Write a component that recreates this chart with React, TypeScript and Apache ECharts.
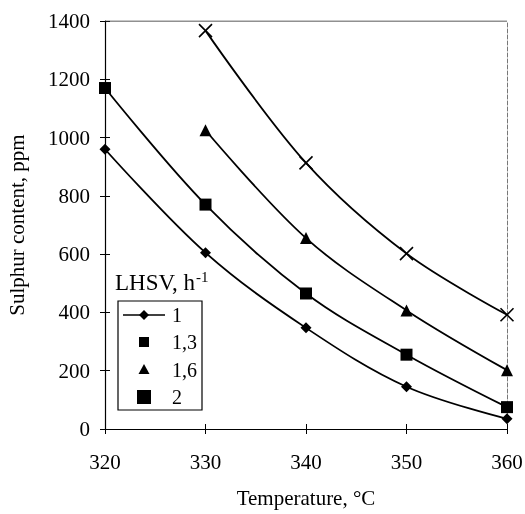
import React, { useEffect, useRef } from "react";
import * as echarts from "echarts";

const temps1 = [320, 330, 340, 350, 360];
const lhsv1 = [960, 605, 347, 145, 35];
const lhsv13 = [1170, 770, 465, 255, 75];
const temps2 = [330, 340, 350, 360];
const lhsv16 = [1025, 655, 407, 202];
const lhsv2 = [1367, 913, 602, 392];
const legendNames = ["1", "1,3", "1,6", "2"];

const FONT = "Liberation Serif";
const crossPath = "path://M0,0L10,10M10,0L0,10";

export default function App() {
  const ref = useRef<HTMLDivElement>(null);
  useEffect(() => {
    const chart = echarts.init(ref.current!, null, { renderer: "svg" });
    const zip = (xs: number[], ys: number[]) => xs.map((x, i) => [x, ys[i]]);
    const lineBase = {
      type: "line" as const,
      smooth: 0.35,
      lineStyle: { color: "#000", width: 1.8 },
      itemStyle: { color: "#000" },
      z: 3,
    };
    const legX = 118, legY = 301, legW = 84, legH = 109;
    const rows = [315, 342, 370, 397];
    const mx = 144;
    const lbl = { fontFamily: FONT, fontSize: 21, color: "#000" };
    chart.setOption({
      animation: false,
      textStyle: { fontFamily: FONT },
      grid: { left: 105, right: 18, top: 21, bottom: 85, outerBoundsMode: "none", containLabel: false },
      xAxis: [
        {
          type: "value", min: 320, max: 360, interval: 10, position: "bottom",
          name: "Temperature, °C", nameLocation: "middle", nameGap: 58,
          nameTextStyle: { fontFamily: FONT, fontSize: 21, color: "#000" },
          axisLine: { lineStyle: { color: "#000", width: 1.2 } },
          axisTick: { show: true, length: 5, lineStyle: { color: "#000" } },
          axisLabel: { ...lbl, margin: 22, formatter: (v: number) => String(v) },
          splitLine: { show: false },
        },
        {
          type: "value", min: 320, max: 360, interval: 10, position: "bottom",
          axisLine: { show: false },
          axisTick: { show: true, inside: true, length: 5, lineStyle: { color: "#000" } },
          axisLabel: { show: false },
          splitLine: { show: false },
        },
      ],
      yAxis: [
        {
          type: "value", min: 0, max: 1400, interval: 200, position: "left",
          name: "Sulphur content, ppm", nameLocation: "middle", nameGap: 78,
          nameTextStyle: { fontFamily: FONT, fontSize: 21, color: "#000" },
          axisLine: { show: true, lineStyle: { color: "#000", width: 1.2 } },
          axisTick: { show: true, length: 5, lineStyle: { color: "#000" } },
          axisLabel: { ...lbl, margin: 15, formatter: (v: number) => String(v) },
          splitLine: { show: false },
        },
        {
          type: "value", min: 0, max: 1400, interval: 200, position: "left",
          axisLine: { show: false },
          axisTick: { show: true, inside: true, length: 5, lineStyle: { color: "#000" } },
          axisLabel: { show: false },
          splitLine: { show: false },
        },
        {
          type: "value", min: 0, max: 1400, interval: 200, position: "right",
          axisLine: { show: true, lineStyle: { color: "#777", width: 1, type: "dashed" } },
          axisTick: { show: false },
          axisLabel: { show: false },
          splitLine: { show: false },
        },
      ],
      series: [
        { ...lineBase, name: "1", data: zip(temps1, lhsv1), symbol: "diamond", symbolSize: 11 },
        { ...lineBase, name: "1,3", data: zip(temps1, lhsv13), symbol: "rect", symbolSize: 12 },
        { ...lineBase, name: "1,6", data: zip(temps2, lhsv16), symbol: "triangle", symbolSize: 12 },
        {
          ...lineBase, name: "2", data: zip(temps2, lhsv2), symbol: crossPath, symbolSize: 13,
          itemStyle: { color: "none", borderColor: "#000", borderWidth: 1.6 },
        },
        {
          type: "line", xAxisIndex: 0, yAxisIndex: 0, data: [[320, 1400], [360, 1400]],
          symbol: "none", lineStyle: { color: "#222", width: 1.2 }, silent: true,
        },
      ],
      graphic: [
        {
          type: "text", x: 115, y: 269,
          style: {
            text: "{a|LHSV, h}{s|-1}", fill: "#000",
            rich: {
              a: { fontFamily: FONT, fontSize: 23, lineHeight: 25, verticalAlign: "bottom" },
              s: { fontFamily: FONT, fontSize: 15, lineHeight: 15, verticalAlign: "top", padding: [0, 0, 12, 1] },
            },
          },
        },
        {
          type: "rect", shape: { x: legX, y: legY, width: legW, height: legH },
          style: { fill: "#fff", stroke: "#000", lineWidth: 1.2 }, z: 10,
        },
        { type: "line", shape: { x1: 123, y1: rows[0], x2: 165, y2: rows[0] }, style: { stroke: "#000", lineWidth: 1.5 }, z: 11 },
        {
          type: "polygon", shape: { points: [[mx, rows[0] - 5], [mx + 5, rows[0]], [mx, rows[0] + 5], [mx - 5, rows[0]]] },
          style: { fill: "#000" }, z: 11,
        },
        { type: "rect", shape: { x: mx - 5, y: rows[1] - 5, width: 10, height: 10 }, style: { fill: "#000" }, z: 11 },
        {
          type: "polygon", shape: { points: [[mx, rows[2] - 6], [mx + 5.5, rows[2] + 4], [mx - 5.5, rows[2] + 4]] },
          style: { fill: "#000" }, z: 11,
        },
        { type: "rect", shape: { x: mx - 7, y: rows[3] - 7, width: 14, height: 14 }, style: { fill: "#000" }, z: 11 },
        ...legendNames.map((n, i) => ({
          type: "text", x: 172, y: rows[i], z: 11,
          style: { text: n, fontFamily: FONT, fontSize: 20, fill: "#000", verticalAlign: "middle" },
        })),
      ],
    });
    return () => chart.dispose();
  }, []);
  return (
    <>
      <style>{`#chart svg text { font-family: "Liberation Serif", "Times New Roman", serif !important; }`}</style>
      <div id="chart" ref={ref} style={{ width: 525, height: 514, position: "fixed", left: 0, top: 0 }} />
    </>
  );
}
